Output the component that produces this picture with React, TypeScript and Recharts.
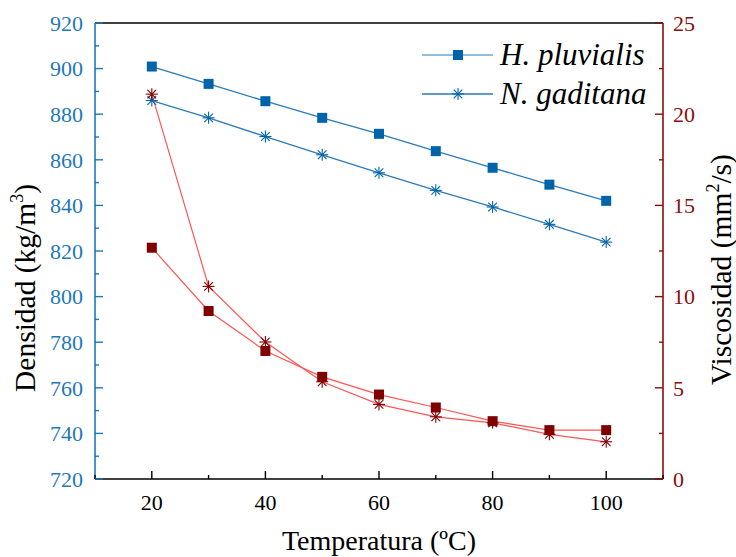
import { ComposedChart, Legend, Line, XAxis, YAxis } from "recharts";

const temps = [20, 30, 40, 50, 60, 70, 80, 90, 100];
const densHp = [900.9, 893.3, 885.7, 878.4, 871.4, 863.8, 856.5, 849.1, 842.0];
const densNg = [886.0, 878.4, 870.2, 862.2, 854.3, 846.6, 839.3, 831.7, 823.9];
const viscHp = [12.68, 9.21, 7.02, 5.6, 4.63, 3.92, 3.17, 2.68, 2.68];
const viscNg = [21.1, 10.56, 7.51, 5.33, 4.09, 3.41, 3.08, 2.45, 2.04];

const xTicks = [10, 20, 30, 40, 50, 60, 70, 80, 90, 100, 110];
const xMajor = [20, 40, 60, 80, 100];
const densTicks = [720, 730, 740, 750, 760, 770, 780, 790, 800, 810, 820, 830, 840, 850, 860, 870, 880, 890, 900, 910, 920];
const densMajor = [720, 740, 760, 780, 800, 820, 840, 860, 880, 900, 920];
const viscTicks = [0, 2.5, 5, 7.5, 10, 12.5, 15, 17.5, 20, 22.5, 25];
const viscMajor = [0, 5, 10, 15, 20, 25];

const data = temps.map((t, i) => ({
  temp: t,
  densHp: densHp[i],
  densNg: densNg[i],
  viscHp: viscHp[i],
  viscNg: viscNg[i],
}));

const FONT = "'Liberation Serif', 'Times New Roman', serif";
const BLUE = "#1f78b8";
const BLUE_MARK = "#0064aa";
const BLUE_LINE = "#2b7bba";
const DARK_RED = "#8b0d0d";
const RED_MARK = "#800000";
const RED_LINE = "#ff5555";

function Square({ cx, cy, fill }: any) {
  if (cx == null || cy == null) return null;
  return <rect x={cx - 5} y={cy - 5} width={10} height={10} fill={fill} />;
}

function Star({ cx, cy, stroke }: any) {
  if (cx == null || cy == null) return null;
  const r = 6;
  const d = r * 0.72;
  return (
    <g stroke={stroke} strokeWidth={1.1}>
      <line x1={cx - r} y1={cy} x2={cx + r} y2={cy} />
      <line x1={cx} y1={cy - r} x2={cx} y2={cy + r} />
      <line x1={cx - d} y1={cy - d} x2={cx + d} y2={cy + d} />
      <line x1={cx - d} y1={cy + d} x2={cx + d} y2={cy - d} />
    </g>
  );
}

function makeTick(side: string, color: string, majors: number[], labels: boolean) {
  return (props: any) => {
    const { x, y, payload } = props;
    const v = payload.value;
    const major = majors.includes(v);
    const len = major ? 8 : 4;
    let line = null;
    let text = null;
    if (side === "left") {
      line = <line x1={x} y1={y} x2={x + len} y2={y} stroke={color} strokeWidth={1.4} />;
      if (labels && major)
        text = (
          <text x={x - 12} y={y} dy="0.35em" textAnchor="end" fill={color} fontSize={22} fontFamily={FONT}>
            {v}
          </text>
        );
    } else if (side === "right") {
      line = <line x1={x} y1={y} x2={x - len} y2={y} stroke={color} strokeWidth={1.4} />;
      if (labels && major)
        text = (
          <text x={x + 10} y={y} dy="0.35em" textAnchor="start" fill={color} fontSize={22} fontFamily={FONT}>
            {v}
          </text>
        );
    } else if (side === "bottom") {
      line = <line x1={x} y1={y} x2={x} y2={y - len} stroke={color} strokeWidth={1.4} />;
      if (labels && major)
        text = (
          <text x={x} y={y + 31} textAnchor="middle" fill={color} fontSize={22} fontFamily={FONT}>
            {v}
          </text>
        );
    } else {
      line = <line x1={x} y1={y} x2={x} y2={y + len} stroke={color} strokeWidth={1.4} />;
    }
    return (
      <g>
        {line}
        {text}
      </g>
    );
  };
}

function LegendBox() {
  const rows = [
    { name: "H. pluvialis", kind: "square" },
    { name: "N. gaditana", kind: "star" },
  ];
  return (
    <svg width={250} height={85} style={{ overflow: "visible" }}>
      {rows.map((r, i) => {
        const y = 25 + i * 39;
        return (
          <g key={r.name}>
            <line x1={7} y1={y} x2={78} y2={y} stroke={i === 0 ? "#6aa8d4" : BLUE_LINE} strokeWidth={1.3} />
            {r.kind === "square" ? (
              <Square cx={43} cy={y} fill={BLUE_MARK} />
            ) : (
              <Star cx={43} cy={y} stroke={BLUE_MARK} />
            )}
            <text x={85} y={y} dy="0.33em" fontSize={31} fontStyle="italic" fontFamily={FONT} fill="#000">
              {r.name}
            </text>
          </g>
        );
      })}
    </svg>
  );
}

export default function App() {
  return (
    <div style={{ position: "absolute", left: 0, top: 0 }}>
      <style>{"body{margin:0}"}</style>
      <ComposedChart width={736} height={557} data={data} margin={{ top: 0, right: 0, bottom: 0, left: 0 }}>
        <XAxis
          dataKey="temp"
          type="number"
          domain={[10, 110]}
          ticks={xTicks}
          interval={0}
          height={78}
          stroke="#000"
          strokeWidth={1.4}
          tickSize={0}
          tickMargin={0}
          tickLine={false}
          tick={makeTick("bottom", "#000", xMajor, true)}
          label={{
            value: "Temperatura (ºC)",
            position: "insideBottom",
            offset: 7,
            fontSize: 28,
            fontFamily: FONT,
            fill: "#000",
          }}
        />
        <XAxis
          xAxisId="top"
          orientation="top"
          type="number"
          domain={[10, 110]}
          ticks={xTicks}
          interval={0}
          height={23}
          stroke="#000"
          strokeWidth={1.4}
          tickSize={0}
          tickMargin={0}
          tickLine={false}
          tick={makeTick("top", "#000", xMajor, false)}
        />
        <YAxis
          yAxisId="d"
          orientation="left"
          domain={[720, 920]}
          ticks={densTicks}
          interval={0}
          width={95}
          stroke={BLUE}
          strokeWidth={1.6}
          tickSize={0}
          tickMargin={0}
          tickLine={false}
          tick={makeTick("left", BLUE, densMajor, true)}
          label={() => (
            <text
              x={35}
              y={392}
              transform="rotate(-90 35 392)"
              textAnchor="start"
              fontSize={29.5}
              fontFamily={FONT}
              fill="#000"
            >
              Densidad (kg/m
              <tspan fontSize={18} dy={-12}>3</tspan>
              <tspan dy={12}>)</tspan>
            </text>
          )}
        />
        <YAxis
          yAxisId="v"
          orientation="right"
          domain={[0, 25]}
          ticks={viscTicks}
          interval={0}
          width={73}
          stroke={DARK_RED}
          strokeWidth={1.6}
          tickSize={0}
          tickMargin={0}
          tickLine={false}
          tick={makeTick("right", DARK_RED, viscMajor, true)}
          label={() => (
            <text
              x={731}
              y={385}
              transform="rotate(-90 731 385)"
              textAnchor="start"
              fontSize={29.5}
              fontFamily={FONT}
              fill="#000"
            >
              Viscosidad (mm
              <tspan fontSize={18} dy={-12}>2</tspan>
              <tspan dy={12}>/s)</tspan>
            </text>
          )}
        />
        <Legend
          layout="vertical"
          align="center"
          verticalAlign="middle"
          wrapperStyle={{ top: 30, left: 415, width: 250, height: 85 }}
          content={() => <LegendBox />}
        />
        <Line
          yAxisId="d"
          dataKey="densHp"
          name="H. pluvialis"
          stroke={BLUE_LINE}
          strokeWidth={1.3}
          isAnimationActive={false}
          dot={(p: any) => <Square key={`dh${p.index}`} cx={p.cx} cy={p.cy} fill={BLUE_MARK} />}
        />
        <Line
          yAxisId="d"
          dataKey="densNg"
          name="N. gaditana"
          stroke={BLUE_LINE}
          strokeWidth={1.3}
          isAnimationActive={false}
          dot={(p: any) => <Star key={`dn${p.index}`} cx={p.cx} cy={p.cy} stroke={BLUE_MARK} />}
        />
        <Line
          yAxisId="v"
          dataKey="viscHp"
          stroke={RED_LINE}
          strokeWidth={1.2}
          isAnimationActive={false}
          legendType="none"
          dot={(p: any) => <Square key={`vh${p.index}`} cx={p.cx} cy={p.cy} fill={RED_MARK} />}
        />
        <Line
          yAxisId="v"
          dataKey="viscNg"
          stroke={RED_LINE}
          strokeWidth={1.2}
          isAnimationActive={false}
          legendType="none"
          dot={(p: any) => <Star key={`vn${p.index}`} cx={p.cx} cy={p.cy} stroke={RED_MARK} />}
        />
      </ComposedChart>
    </div>
  );
}
